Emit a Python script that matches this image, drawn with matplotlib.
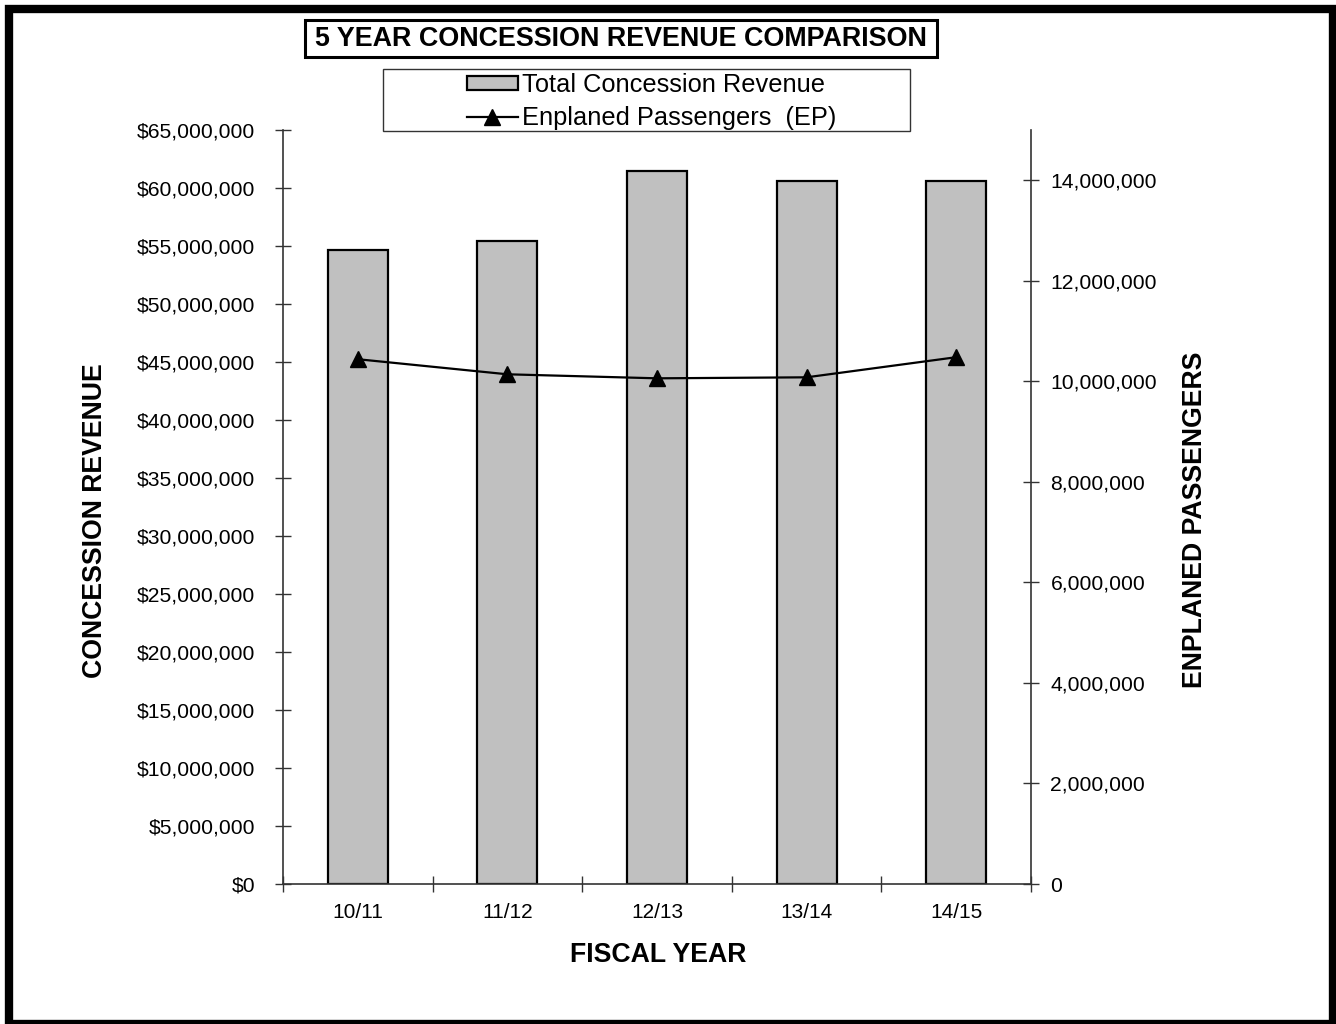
import matplotlib
matplotlib.use("Agg")
import matplotlib.pyplot as plt
from matplotlib.patches import Rectangle, Patch
from matplotlib.lines import Line2D
from matplotlib.ticker import FuncFormatter, FixedLocator
import numpy as np

plt.rcParams['font.family'] = ['Liberation Sans', 'DejaVu Sans']

categories = ["10/11", "11/12", "12/13", "13/14", "14/15"]
revenue = [54650000, 55430000, 61470000, 60600000, 60600000]
passengers = [10440000, 10140000, 10060000, 10080000, 10480000]
title = "5 YEAR CONCESSION REVENUE COMPARISON"
legend_labels = ["Total Concession Revenue", "Enplaned Passengers  (EP)"]

W, H = 1336, 1024
fig = plt.figure(figsize=(W / 100, H / 100), dpi=100)

def fx(px):
    return px / W

def fy(py):
    return 1 - py / H

# axes box: x 283..1031, y 130..884
ax = fig.add_axes([fx(283), fy(884), fx(1031) - fx(283), fy(130) - fy(884)])
ax2 = ax.twinx()

x = np.arange(len(categories))
ax.bar(x, revenue, width=0.4, color="#C0C0C0", edgecolor="black", linewidth=1.6, zorder=2)
ax2.plot(x, passengers, color="black", linewidth=1.6, marker="^", markersize=11, zorder=3)

ax.set_xlim(-0.5, len(categories) - 0.5)
ax.set_ylim(0, 65000000)
ax2.set_ylim(0, 15000000)

ax.set_yticks(np.arange(0, 65000001, 5000000))
ax.yaxis.set_major_formatter(FuncFormatter(lambda v, p: "${:,.0f}".format(v)))
ax2.set_yticks(np.arange(0, 14000001, 2000000))
ax2.yaxis.set_major_formatter(FuncFormatter(lambda v, p: "{:,.0f}".format(v)))

# x: ticks at boundaries, labels at centers
ax.xaxis.set_major_locator(FixedLocator(np.arange(-0.5, len(categories), 1.0)))
ax.xaxis.set_major_formatter(FuncFormatter(lambda v, p: ""))
ax.set_xticks(x, minor=True)
ax.set_xticklabels(categories, minor=True)
ax.tick_params(axis="x", which="minor", length=0, pad=14, labelsize=15)
ax.tick_params(axis="x", which="major", direction="inout", length=12, width=1, color="#333333")
ax.tick_params(axis="y", direction="inout", length=12, width=1, pad=14, labelsize=15.2, color="#333333")
ax2.tick_params(axis="y", direction="inout", length=12, width=1, pad=8, labelsize=15.2, color="#333333")

for a in (ax, ax2):
    a.spines["top"].set_visible(False)
    a.set_facecolor("none")
ax.spines["right"].set_visible(False)
ax2.spines["left"].set_visible(False)
ax2.spines["bottom"].set_visible(False)
for s in ("left", "bottom"):
    ax.spines[s].set_color("#333333")
    ax.spines[s].set_linewidth(1.2)
ax2.spines["right"].set_color("#333333")
ax2.spines["right"].set_linewidth(1.2)

ax.set_zorder(1)
ax2.set_zorder(2)

# axis titles
fig.text(fx(95), fy(521), "CONCESSION REVENUE", rotation=90, fontsize=19.2, fontweight="bold",
         ha="center", va="center")
fig.text(fx(1195), fy(520), "ENPLANED PASSENGERS", rotation=90, fontsize=19.2, fontweight="bold",
         ha="center", va="center")
fig.text(fx(658), fy(955), "FISCAL YEAR", fontsize=19.2, fontweight="bold", ha="center", va="center")

# title with box
fig.text(fx(621), fy(39), title, fontsize=19.4, fontweight="bold", ha="center", va="center")
fig.patches.append(Rectangle((fx(305), fy(57)), fx(937) - fx(305), fy(20) - fy(57),
                             transform=fig.transFigure, fill=False, edgecolor="black", linewidth=2.2))

# legend box
fig.patches.append(Rectangle((fx(383), fy(131)), fx(910) - fx(383), fy(69) - fy(131),
                             transform=fig.transFigure, fill=False, edgecolor="#333333", linewidth=1.0))
handles = [Patch(facecolor="#C0C0C0", edgecolor="black", linewidth=1.6),
           Line2D([0], [0], color="black", linewidth=1.6, marker="^", markersize=11)]
fig.legend(handles, legend_labels, loc="upper left", bbox_to_anchor=(fx(467), fy(73)),
           frameon=False, fontsize=18.3, handlelength=2.0, handleheight=0.45, handletextpad=0.15,
           labelspacing=0.35, borderpad=0, borderaxespad=0)

# outer frame
fig.patches.append(Rectangle((fx(9), fy(1024)), fx(1333) - fx(9), fy(9) - fy(1024),
                             transform=fig.transFigure, fill=False, edgecolor="black", linewidth=6))

fig.savefig("out.png", dpi=100)
